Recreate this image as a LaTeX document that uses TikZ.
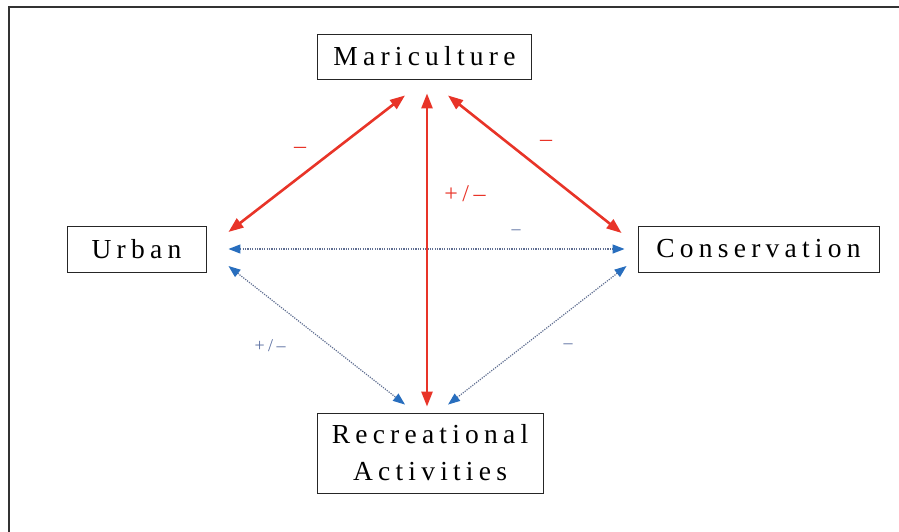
\documentclass[tikz,border=0pt]{standalone}
\usepackage{fontspec}
\setmainfont{Liberation Serif}
\newfontfamily\boxfont[LetterSpace=19]{Liberation Serif}
\usetikzlibrary{arrows.meta,calc}
\definecolor{redarr}{RGB}{232,52,40}
\definecolor{bluearr}{RGB}{40,110,190}
\definecolor{dotcol}{RGB}{95,110,145}
\definecolor{bluelab}{RGB}{90,110,160}
\definecolor{framecol}{RGB}{50,50,50}
\tikzset{
  box/.style={draw=black!85,line width=0.9pt,align=center,inner sep=0pt,
    font=\fontsize{27.5}{37}\boxfont},
  redlink/.style={draw=redarr,line width=2.6pt,
    {Triangle[length=15pt,width=11pt,fill=redarr]}-{Triangle[length=15pt,width=11pt,fill=redarr]}},
  bluelink/.style={draw=dotcol,line width=1.2pt,dash pattern=on 1.2pt off 1.2pt,
    {Triangle[length=12pt,width=9pt,fill=bluearr,color=bluearr]}-{Triangle[length=12pt,width=9pt,fill=bluearr,color=bluearr]}},
  redlab/.style={text=redarr,font=\fontsize{24}{24}\boxfont,inner sep=0pt},
  bluelab/.style={text=bluelab,font=\fontsize{18}{18}\boxfont,inner sep=0pt}
}
\begin{document}
\begin{tikzpicture}[x=1pt,y=-1pt]
\useasboundingbox (0,0) rectangle (899,531);
\draw[framecol,line width=1.8pt] (9,560) -- (9,7) -- (910,7);
% nodes
\node[box,minimum width=214pt,minimum height=45pt] (mar) at (424.5,56.5) {Mariculture};
\node[box,minimum width=139pt,minimum height=46pt] (urb) at (136.5,249) {Urban};
\node[box,minimum width=241pt,minimum height=46pt] (con) at (758.5,249) {Conservation};
\node[box,minimum width=226pt,minimum height=80pt] (rec) at (430,453) {Recreational\\Activities};
% anchor points
\coordinate (mL) at ($(mar.south)+(-19.5,16)$);
\coordinate (mC) at ($(mar.south)+(2.5,14)$);
\coordinate (mR) at ($(mar.south)+(23.5,16)$);
\coordinate (uT) at ($(urb.east)+(22,-17)$);
\coordinate (uM) at ($(urb.east)+(22,0)$);
\coordinate (uB) at ($(urb.east)+(22,17)$);
\coordinate (cT) at ($(con.west)+(-16,-16)$);
\coordinate (cM) at ($(con.west)+(-13,0)$);
\coordinate (cB) at ($(con.west)+(-11,17)$);
\coordinate (rL) at ($(rec.north)+(-25,-8)$);
\coordinate (rC) at ($(rec.north)+(-3,-6)$);
\coordinate (rR) at ($(rec.north)+(18,-8)$);
% blue dotted links
\draw[bluelink] (uM) -- (cM);
\draw[bluelink] (uB) -- (rL);
\draw[bluelink] (cB) -- (rR);
% red links
\draw[redlink] (mL) -- (uT);
\draw[redlink] (mR) -- (cT);
\draw[redlink] (mC) -- (rC);
% labels
\node[redlab] (l1) at (300,150) {–};
\node[redlab] (l2) at (546,143) {–};
\node[redlab] (l3) at (465,194) {+/–};
\node[bluelab] (l4) at (516,232) {–};
\node[bluelab] (l5) at (270,346) {+/–};
\node[bluelab] (l6) at (568,346) {–};
\end{tikzpicture}
\end{document}
